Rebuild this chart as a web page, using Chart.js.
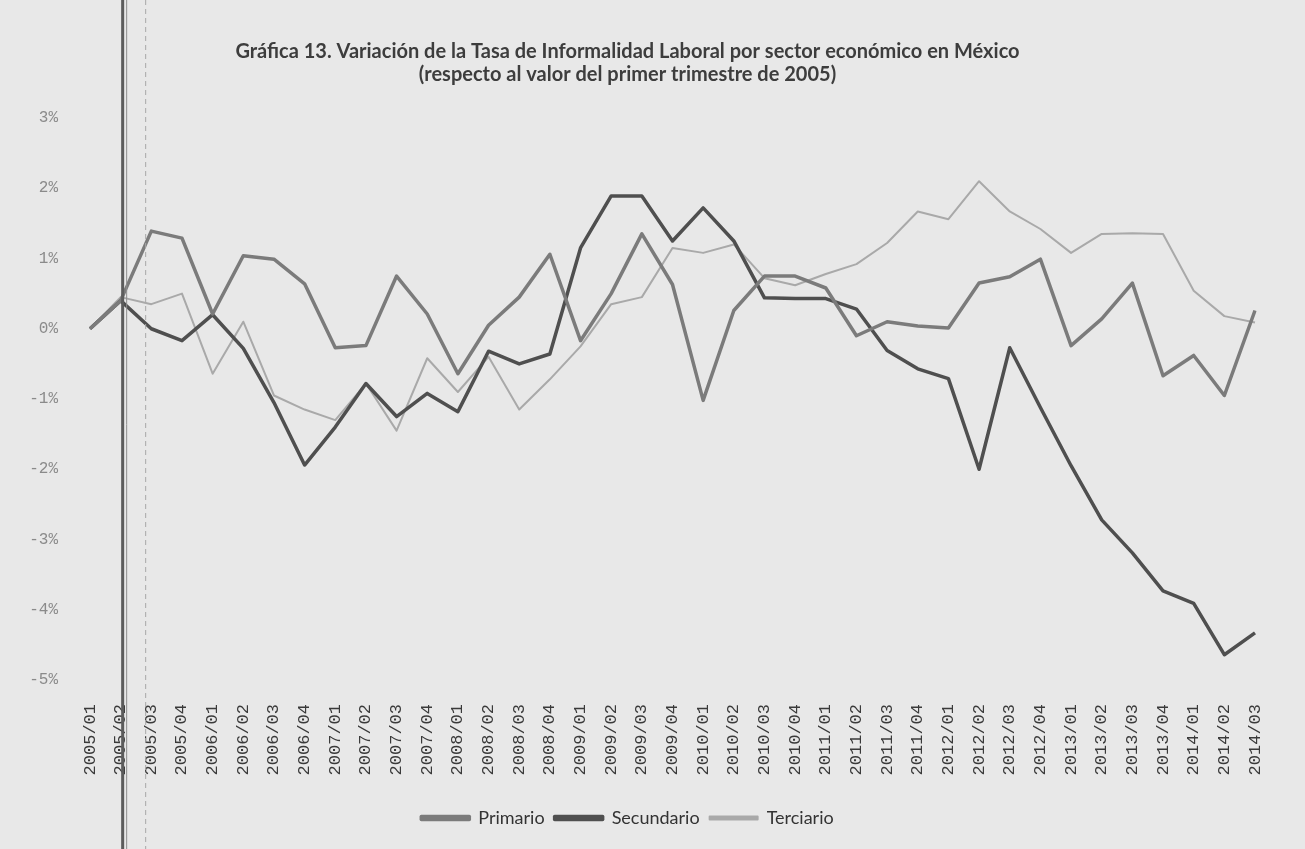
<!DOCTYPE html>
<html>
<head>
<meta charset="utf-8">
<script src="https://cdn.jsdelivr.net/npm/chart.js@4.4.1/dist/chart.umd.min.js"></script>
<style>
  html, body { margin: 0; padding: 0; background: #e8e8e8; }
  #wrap { width: 1305px; height: 849px; }
</style>
</head>
<body>
<div id="wrap"><canvas id="chart" width="1305" height="849"></canvas></div>
<script>
const quarters = [
  "2005/01", "2005/02", "2005/03", "2005/04",
  "2006/01", "2006/02", "2006/03", "2006/04",
  "2007/01", "2007/02", "2007/03", "2007/04",
  "2008/01", "2008/02", "2008/03", "2008/04",
  "2009/01", "2009/02", "2009/03", "2009/04",
  "2010/01", "2010/02", "2010/03", "2010/04",
  "2011/01", "2011/02", "2011/03", "2011/04",
  "2012/01", "2012/02", "2012/03", "2012/04",
  "2013/01", "2013/02", "2013/03", "2013/04",
  "2014/01", "2014/02", "2014/03"
];

// % change vs 2005/01
const primario = [
  0, 0.4, 1.39, 1.29, 0.21, 1.04, 0.99, 0.64, -0.27, -0.24, 0.75, 0.21,
  -0.64, 0.05, 0.45, 1.06, -0.17, 0.5, 1.35, 0.63, -1.02, 0.26, 0.75, 0.75,
  0.58, -0.1, 0.1, 0.04, 0.01, 0.65, 0.74, 0.99, -0.24, 0.14, 0.65, -0.67,
  -0.38, -0.95, 0.26
];
const secundario = [
  0, 0.4, 0.0, -0.17, 0.2, -0.28, -1.05, -1.94, -1.4, -0.78, -1.25, -0.92,
  -1.18, -0.32, -0.5, -0.36, 1.15, 1.89, 1.89, 1.25, 1.72, 1.25, 0.44, 0.43,
  0.43, 0.28, -0.31, -0.57, -0.71, -2.0, -0.27, -1.12, -1.95, -2.72, -3.19, -3.73,
  -3.91, -4.64, -4.33
];
const terciario = [
  0, 0.45, 0.35, 0.5, -0.64, 0.1, -0.95, -1.15, -1.3, -0.78, -1.45, -0.42,
  -0.9, -0.4, -1.15, -0.72, -0.25, 0.35, 0.45, 1.15, 1.08, 1.2, 0.72, 0.62,
  0.78, 0.92, 1.22, 1.67, 1.56, 2.1, 1.67, 1.42, 1.08, 1.35, 1.36, 1.35,
  0.54, 0.18, 0.09
];

const yTicks = [-5, -4, -3, -2, -1, 0, 1, 2, 3];

const FONT = "Lato, 'Open Sans', sans-serif";
const MONO = "'Liberation Mono', 'DejaVu Sans Mono', monospace";

// page background, drawn under everything
const bgPlugin = {
  id: "bg",
  beforeDraw(chart) {
    const c = chart.ctx;
    c.save();
    c.fillStyle = "#e8e8e8";
    c.fillRect(0, 0, chart.width, chart.height);
    c.restore();
  }
};

// the fold lines from the scanned page near 2005/02
const foldPlugin = {
  id: "fold",
  afterDraw(chart) {
    const c = chart.ctx;
    const x = chart.scales.x.getPixelForValue(1);
    c.save();
    c.strokeStyle = "#5c5c5c";
    c.lineWidth = 3;
    c.beginPath(); c.moveTo(x + 2, 0); c.lineTo(x + 2, chart.height); c.stroke();
    c.strokeStyle = "#8c8c8c";
    c.lineWidth = 1;
    c.beginPath(); c.moveTo(x + 6, 0); c.lineTo(x + 6, chart.height); c.stroke();
    c.strokeStyle = "#a8a8a8";
    c.setLineDash([5, 4]);
    c.beginPath(); c.moveTo(x + 25, 0); c.lineTo(x + 25, chart.height); c.stroke();
    c.restore();
  }
};

const ds = (label, data, color, width) => ({
  label,
  data,
  borderColor: color,
  backgroundColor: color,
  borderWidth: width,
  pointRadius: 0,
  tension: 0,
  borderJoinStyle: "round"
});

new Chart(document.getElementById("chart"), {
  type: "line",
  data: {
    labels: quarters,
    datasets: [
      ds("Primario", primario, "#7b7b7b", 3.5),
      ds("Secundario", secundario, "#4f4f4f", 3.5),
      ds("Terciario", terciario, "#a9a9a9", 2)
    ]
  },
  options: {
    responsive: false,
    animation: false,
    layout: { padding: { left: 0, right: 50, top: 0, bottom: 12 } },
    plugins: {
      title: {
        display: true,
        text: [
          "Gráfica 13. Variación de la Tasa de Informalidad Laboral por sector económico en México",
          "(respecto al valor del primer trimestre de 2005)"
        ],
        color: "#3d3d3d",
        font: { family: FONT, size: 20, weight: "bold", lineHeight: 1.15 },
        padding: { top: 40, bottom: 32 }
      },
      legend: {
        position: "bottom",
        labels: {
          color: "#333",
          font: { family: FONT, size: 18 },
          boxWidth: 48,
          boxHeight: 3,
          padding: 10
        }
      },
      tooltip: { enabled: false }
    },
    scales: {
      x: {
        grid: { display: false, drawTicks: false },
        border: { display: false },
        ticks: {
          color: "#3a3a3a",
          font: { family: MONO, size: 17 },
          minRotation: 90,
          maxRotation: 90,
          autoSkip: false,
          padding: 24
        },
        afterFit(scale) { scale.height = 119; }
      },
      y: {
        min: -5,
        max: 3,
        grid: { display: false, drawTicks: false },
        border: { display: false },
        afterBuildTicks(scale) { scale.ticks = yTicks.map((v) => ({ value: v })); },
        ticks: {
          color: "#8a8a8a",
          font: { family: MONO, size: 16 },
          padding: 32,
          callback: (v) => v + "%"
        },
        afterFit(scale) { scale.width = 90; }
      }
    }
  },
  plugins: [bgPlugin, foldPlugin]
});
</script>
</body>
</html>
